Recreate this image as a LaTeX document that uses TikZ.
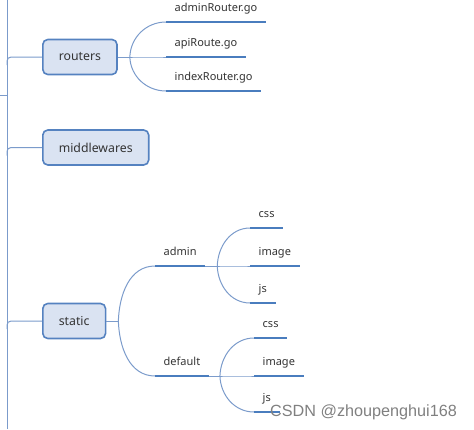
\documentclass[tikz,border=0pt]{standalone}
\usepackage{fontspec}
\setmainfont{Noto Sans}
\newfontfamily\markfont{Liberation Sans}
\usepackage{xcolor}
\usepackage{tikz}
\usetikzlibrary{positioning,calc}
\definecolor{boxfill}{HTML}{DAE3F2}
\definecolor{boxline}{HTML}{5582C0}
\definecolor{barblue}{HTML}{4A7DBE}
\definecolor{twigblue}{HTML}{7B9BCB}
\definecolor{inkgray}{HTML}{333333}

\begin{document}
\begin{tikzpicture}[x=1pt,y=-1pt,
    topic/.style={draw=boxline,fill=boxfill,line width=1.6pt,rounded corners=5pt,
        anchor=west,minimum height=35pt,inner xsep=16pt,text=inkgray,
        font=\fontsize{12.3}{14}\selectfont},
    leaf/.style={anchor=south west,inner xsep=8.5pt,inner ysep=7.5pt,text=inkgray,
        text height=0.75em,text depth=0.25em,font=\fontsize{11}{13}\selectfont},
    bar/.style={draw=barblue,line width=2.6pt},
    twig/.style={draw=twigblue,line width=1pt}]
    \useasboundingbox (0,0) rectangle (474,429);

    % Trunk
    \coordinate (trunktop) at (7,0);
    \coordinate (trunkbot) at (7,429);
    \coordinate (root) at (0,95);
    \draw[twig] (trunktop) -- (trunkbot);
    \draw[twig] (root) -- (root -| trunktop);

    % Main topics
    \node[topic] (routers) at (42,57) {routers};
    \node[topic] (middlewares) at (42,147.5) {middlewares};
    \node[topic] (static) at (42,321) {static};
    \foreach \t in {routers, middlewares, static} {
        \draw[twig,rounded corners=4pt] ($(trunktop |- \t.west)+(0,8)$) |- (\t.west);
    }

    % routers branch
    \node[leaf] (adminR) at (166,22) {adminRouter.go};
    \node[leaf] (apiR) at (166,57) {apiRoute.go};
    \node[leaf] (indexR) at (166,91) {indexRouter.go};
    \draw[twig] (routers.east) -- ++(12,0) coordinate (rj);
    \foreach \n/\o in {adminR/88, apiR/0, indexR/-88} {
        \draw[twig] (rj) to[out=\o,in=180] (\n.south west);
    }

    % static branch
    \node[leaf] (admin) at (155,266) {admin};
    \node[leaf] (default) at (155,376) {default};
    \draw[twig] (static.east) -- ++(12,0) coordinate (sj);
    \foreach \n/\o in {admin/88, default/-88} {
        \draw[twig] (sj) to[out=\o,in=180] (\n.south west);
    }

    % admin folder
    \node[leaf] (acss) at (250,228) {css};
    \node[leaf] (aimage) at (250,266) {image};
    \node[leaf] (ajs) at (250,303) {js};
    \draw[twig] (admin.south east) -- ++(12,0) coordinate (aj);
    \foreach \n/\o in {acss/88, aimage/0, ajs/-88} {
        \draw[twig] (aj) to[out=\o,in=180] (\n.south west);
    }

    % default folder
    \node[leaf] (dcss) at (254,338) {css};
    \node[leaf] (dimage) at (254,376) {image};
    \node[leaf] (djs) at (254,412) {js};
    \draw[twig] (default.south east) -- ++(11,0) coordinate (dj);
    \foreach \n/\o in {dcss/88, dimage/0, djs/-88} {
        \draw[twig] (dj) to[out=\o,in=180] (\n.south west);
    }

    % Underlines
    \foreach \n in {adminR, apiR, indexR, admin, default, acss, aimage, ajs, dcss, dimage, djs} {
        \draw[bar] (\n.south west) -- (\n.south east);
    }

    % Watermark
    \node[anchor=west,inner sep=0,text=black!50,font=\markfont\fontsize{16.2}{18}\selectfont]
        (mark) at (270,412) {CSDN @zhoupenghui168};
\end{tikzpicture}
\end{document}
